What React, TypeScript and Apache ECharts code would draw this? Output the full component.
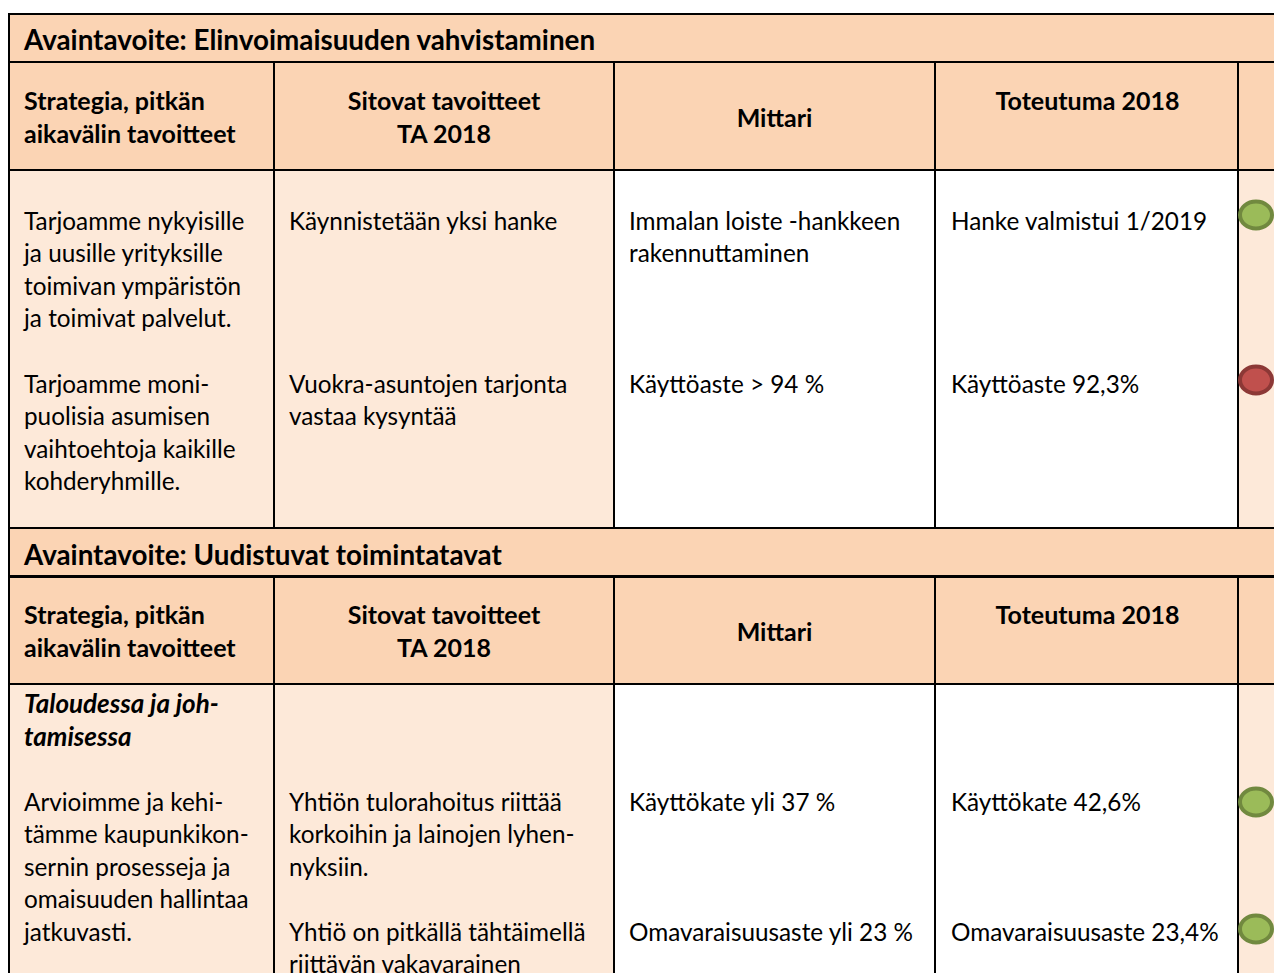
import React, { useEffect, useRef } from "react";
import * as echarts from "echarts";

// ---- data ----
const bandTitles = [
  "Avaintavoite: Elinvoimaisuuden vahvistaminen",
  "Avaintavoite: Uudistuvat toimintatavat",
];
const headerCol1 = ["Strategia, pitkän", "aikavälin tavoitteet"];
const headerCol2 = ["Sitovat tavoitteet", "TA 2018"];
const headerCol3 = ["Mittari"];
const headerCol4 = ["Toteutuma 2018"];

const section1Strategy = [
  ["Tarjoamme nykyisille", "ja uusille yrityksille", "toimivan ympäristön", "ja toimivat palvelut."],
  ["Tarjoamme moni-", "puolisia asumisen", "vaihtoehtoja kaikille", "kohderyhmille."],
];
const section1Goals = [["Käynnistetään yksi hanke"], ["Vuokra-asuntojen tarjonta", "vastaa kysyntää"]];
const section1Metric = [["Immalan loiste -hankkeen", "rakennuttaminen"], ["Käyttöaste > 94 %"]];
const section1Result = [["Hanke valmistui 1/2019"], ["Käyttöaste 92,3%"]];
const section1Status = ["green", "red"];

const section2Heading = ["Taloudessa ja joh-", "tamisessa"];
const section2Strategy = [["Arvioimme ja kehi-", "tämme kaupunkikon-", "sernin prosesseja ja", "omaisuuden hallintaa", "jatkuvasti."]];
const section2Goals = [
  ["Yhtiön tulorahoitus riittää", "korkoihin ja lainojen lyhen-", "nyksiin."],
  ["Yhtiö on pitkällä tähtäimellä", "riittävän vakavarainen"],
];
const section2Metric = [["Käyttökate yli 37 %"], ["Omavaraisuusaste yli 23 %"]];
const section2Result = [["Käyttökate 42,6%"], ["Omavaraisuusaste 23,4%"]];
const section2Status = ["green", "green"];

// ---- layout ----
const FONT = "Lato, 'Open Sans', sans-serif";
const FS = 24.3;
const FSB = 25;
const FS_BAND = 27.8;
const FS_ITALIC = 26;
const LH = 32.6;
const PEACH = "#FBD4B4";
const LIGHT = "#FDE9D9";
const colX = [9, 274, 614, 935, 1238, 1300];
const colText = [24, 289, 629, 951];
const statusColors: Record<string, [string, string]> = {
  green: ["#9BBB59", "#71893F"],
  red: ["#C0504D", "#8C3836"],
};

function txt(text: string, x: number, y: number, opts: any = {}) {
  return {
    type: "text",
    z: 10,
    style: {
      text,
      x,
      y,
      fill: "#000",
      fontFamily: FONT,
      fontSize: opts.size || (opts.bold ? FSB : FS),
      fontWeight: opts.bold ? "bold" : "normal",
      fontStyle: opts.italic ? "italic" : "normal",
      align: opts.align || "left",
      verticalAlign: "middle",
    },
  };
}

function lines(arr: string[], x: number, y0: number, opts: any = {}) {
  return arr.map((t, i) => txt(t, x, y0 + i * LH, opts));
}

function rect(x: number, y: number, w: number, h: number, fill: string) {
  return { type: "rect", z: 1, shape: { x, y, width: w, height: h }, style: { fill } };
}
function hline(y: number, x1 = 9, x2 = 1300) {
  return { type: "line", z: 5, shape: { x1, y1: y, x2, y2: y }, style: { stroke: "#000", lineWidth: 2 } };
}
function vline(x: number, y1: number, y2: number) {
  return { type: "line", z: 5, shape: { x1: x, y1, x2: x, y2 }, style: { stroke: "#000", lineWidth: 2 } };
}
function status(color: string, y: number) {
  const c = statusColors[color];
  return {
    type: "ellipse",
    z: 12,
    shape: { cx: 1256, cy: y, rx: 16, ry: 13.5 },
    style: { fill: c[0], stroke: c[1], lineWidth: 4 },
  };
}

function section(top: number, contentBottom: number) {
  const bandB = top + 48;
  const headB = top + 156;
  const els: any[] = [];
  els.push(rect(9, top, 1300, 48, PEACH));
  els.push(rect(9, bandB, 1300, 108, PEACH));
  els.push(rect(colX[0], headB, colX[2] - colX[0], contentBottom - headB, LIGHT));
  els.push(rect(colX[2], headB, colX[4] - colX[2], contentBottom - headB, "#fff"));
  els.push(rect(colX[4], headB, 100, contentBottom - headB, LIGHT));
  els.push(hline(bandB));
  els.push(hline(headB));
  for (let i = 1; i <= 4; i++) els.push(vline(colX[i], bandB, contentBottom));
  const hy = top + 86;
  els.push(...lines(headerCol1, colText[0], hy, { bold: true }));
  els.push(...lines(headerCol2, (colX[1] + colX[2]) / 2, hy, { bold: true, align: "center" }));
  els.push(...lines(headerCol3, (colX[2] + colX[3]) / 2, hy + 17, { bold: true, align: "center" }));
  els.push(...lines(headerCol4, (colX[3] + colX[4]) / 2 + 1, hy, { bold: true, align: "center" }));
  return els;
}

export default function App() {
  const ref = useRef<HTMLDivElement>(null);
  useEffect(() => {
    if (!ref.current) return;
    const chart = echarts.init(ref.current, undefined, { renderer: "svg" });
    const els: any[] = [];
    els.push(...section(14, 528));
    els.push(...section(528, 990));
    els.push(txt(bandTitles[0], 24, 39, { bold: true, size: FS_BAND }));
    els.push(txt(bandTitles[1], 24, 554, { bold: true, size: FS_BAND }));
    els.push(hline(14, 8));
    els.push(hline(528, 8));
    els.push(hline(577, 8));
    els.push(vline(9, 13, 990));

    const r1 = [220, 383];
    section1Strategy.forEach((l, i) => els.push(...lines(l, colText[0], r1[i])));
    section1Goals.forEach((l, i) => els.push(...lines(l, colText[1], r1[i])));
    section1Metric.forEach((l, i) => els.push(...lines(l, colText[2], r1[i])));
    section1Result.forEach((l, i) => els.push(...lines(l, colText[3], r1[i])));
    section1Status.forEach((s, i) => els.push(status(s, r1[i] - 5 + (i === 1 ? 2 : 0))));

    els.push(...lines(section2Heading, colText[0], 703, { bold: true, italic: true, size: FS_ITALIC }));
    const r2 = [801, 931];
    section2Strategy.forEach((l, i) => els.push(...lines(l, colText[0], r2[i])));
    section2Goals.forEach((l, i) => els.push(...lines(l, colText[1], r2[i])));
    section2Metric.forEach((l, i) => els.push(...lines(l, colText[2], r2[i])));
    section2Result.forEach((l, i) => els.push(...lines(l, colText[3], r2[i])));
    section2Status.forEach((s, i) => els.push(status(s, r2[i] + 1 + (i === 1 ? -3 : 0))));

    chart.setOption({
      animation: false,
      backgroundColor: "#fff",
      graphic: { elements: els },
    });
    return () => chart.dispose();
  }, []);
  return (
    <div
      ref={ref}
      style={{ position: "fixed", left: 0, top: 0, width: 1274, height: 973 }}
    />
  );
}
